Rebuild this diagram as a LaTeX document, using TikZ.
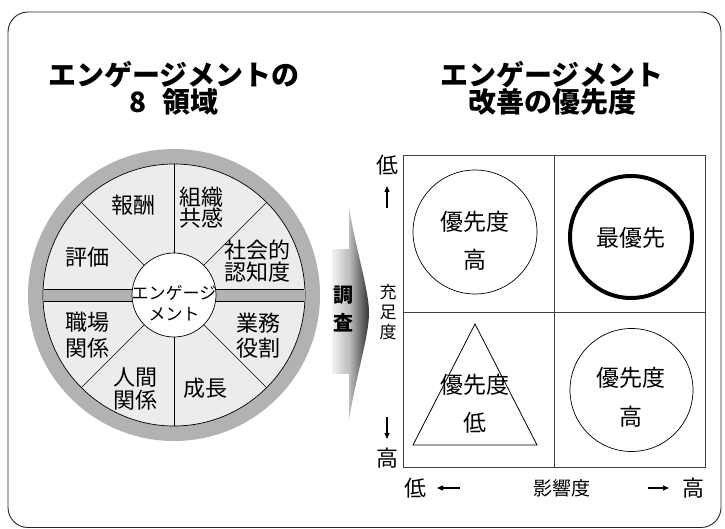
\documentclass[tikz,border=0pt]{standalone}
\usepackage{fontspec}
\setmainfont{Noto Sans CJK JP}
\usetikzlibrary{arrows.meta,shapes.geometric}
\begin{document}
\begin{tikzpicture}[x=1pt,y=-1pt,
  title/.style={font=\fontsize{28}{27}\selectfont\bfseries, align=center, inner sep=0pt},
  seg/.style={font=\fontsize{22}{24}\selectfont, align=center, inner sep=0pt},
  hubtext/.style={font=\fontsize{17}{21}\selectfont, align=center, inner sep=0pt},
  qtext/.style={font=\fontsize{23}{23}\selectfont, inner sep=0pt},
  axlabel/.style={font=\fontsize{22}{22}\selectfont, inner sep=0pt},
  axsmall/.style={font=\fontsize{17}{20}\selectfont, align=center, inner sep=0pt},
  axarrow/.style={-{Triangle[length=6pt,width=5pt]}, line width=1.2pt},
  ringfill/.style={fill=gray!60},
  quad/.style={circle, draw=black, line width=0.7pt, minimum size=124pt, inner sep=0pt},
  gridline/.style={draw=black!75, line width=0.7pt},
  radial/.style={draw=black, line width=0.7pt},
]
\useasboundingbox (0,0) rectangle (725,529);
% frame
\draw[black!85, line width=0.9pt, rounded corners=20pt] (8,12) rectangle (721,527.5);

% titles
\node[title] (t1) at (174,88.5) {エンゲージメントの\\8\hspace{0.55em}領域};
\node[title] (t2) at (552,88.5) {エンゲージメント\\改善の優先度};

% wheel
\coordinate (wc) at (174,295);
\fill[ringfill] (wc) circle[radius=146pt];
\filldraw[fill=gray!15, draw=black, line width=0.7pt] (wc) circle[radius=131pt];
\fill[ringfill] (43.5,289) rectangle (304.5,301);
\draw[radial] (43.6,289) -- (304.4,289);
\draw[radial] (43.6,301.5) -- (304.4,301.5);
\foreach \a in {45,90,135,225,270,315}
  \draw[radial, shift={(wc)}] (\a:42pt) -- (\a:131pt);
\node[circle, draw=black, fill=white, line width=0.7pt, minimum size=84pt, inner sep=0pt] (hub) at (wc) {};
\node[hubtext] (hubtxt) at (174,303) {エンゲージ\\メント};

\node[seg] (s1) at (133,205) {報酬};
\node[seg] (s2) at (201,208) {組織\\[-3pt]共感};
\node[seg] (s3) at (257,261) {社会的\\[-2pt]認知度};
\node[seg] (s4) at (87,257) {評価};
\node[seg] (s5) at (87,335) {職場\\[2pt]関係};
\node[seg] (s6) at (135,388.5) {人間\\[-1pt]関係};
\node[seg] (s7) at (258,335.5) {業務\\[1pt]役割};
\node[seg] (s8) at (205,388) {成長};

% survey arrow
\shade[left color=gray!10, right color=gray!60] (332,250) rectangle (352,373);
\shade[left color=gray!50, right color=black!80]
  (349,208) .. controls (356,250) and (369,290) .. (369,313)
  .. controls (369,336) and (356,376) .. (349,420) -- cycle;
\node[font=\fontsize{20}{20}\selectfont\bfseries, inner sep=0pt] (c1) at (343,295) {調};
\node[font=\fontsize{20}{20}\selectfont\bfseries, inner sep=0pt] (c2) at (343,323) {査};

% matrix
\draw[gridline] (403,155) rectangle (705,467);
\draw[gridline] (554,155) -- (554,467);
\draw[gridline] (403,312) -- (705,312);

\node[quad] (q1) at (475,232) {};
\node[qtext] (q1a) at (475,222) {優先度};
\node[qtext] (q1b) at (475,260) {高};

\node[quad, line width=4pt, minimum size=122pt] (q2) at (631,237) {};
\node[qtext] (q2a) at (631,238) {最優先};

\node[quad, minimum size=123pt] (q4) at (631.5,390) {};
\node[qtext] (q4a) at (631,378) {優先度};
\node[qtext] (q4b) at (631,417) {高};

\draw[black, line width=0.8pt] (475,324) -- (537,445) -- (413,445) -- cycle;
\node[qtext] (q3a) at (475,385) {優先度};
\node[qtext] (q3b) at (475,423) {低};

% axes
\node[axlabel] (ylow) at (387,165) {低};
\coordinate (ua0) at (387,208);
\coordinate (ua1) at (387,186);
\draw[axarrow] (ua0) -- (ua1);
\node[axsmall] (ylab) at (388,312) {充\\足\\度};
\coordinate (da0) at (387,417);
\coordinate (da1) at (387,439);
\draw[axarrow] (da0) -- (da1);
\node[axlabel] (yhigh) at (387,458) {高};

\node[axlabel] (xlow) at (415,488) {低};
\coordinate (la0) at (460,488);
\coordinate (la1) at (437,488);
\draw[axarrow] (la0) -- (la1);
\node[font=\fontsize{19}{19}\selectfont, inner sep=0pt] (xlab) at (562,488) {影響度};
\coordinate (ra0) at (648,488);
\coordinate (ra1) at (669,488);
\draw[axarrow] (ra0) -- (ra1);
\node[axlabel] (xhigh) at (693,488) {高};
\end{tikzpicture}
\end{document}
